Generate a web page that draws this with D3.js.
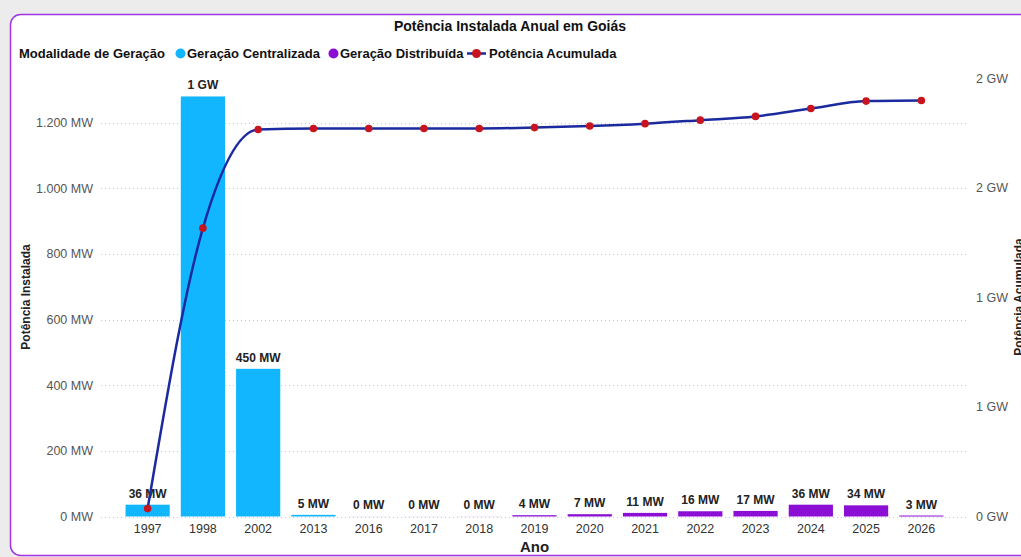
<!DOCTYPE html>
<html><head><meta charset="utf-8">
<script src="https://cdn.jsdelivr.net/npm/d3@7"></script>
<style>
html,body{margin:0;padding:0;background:#ececec;}
svg{display:block;font-family:Arial,"Liberation Sans",sans-serif;}
</style></head>
<body>
<svg id="chart" width="1021" height="557"></svg>
<script>
// ---- data ----
const years = ["1997","1998","2002","2013","2016","2017","2018","2019","2020","2021","2022","2023","2024","2025","2026"];
const centralizada = [36, 1280, 450, 5, 0, 0, 0, 0, 0, 0, 0, 0, 0, 0, 0];
const distribuida  = [0, 0, 0, 0, 0.2, 0.2, 0.3, 4, 7, 11, 16, 17, 36, 34, 3];
const acumulada    = [36, 1316, 1766, 1771, 1771, 1771, 1771, 1775, 1782, 1793, 1809, 1826, 1862, 1896, 1899];
const leftTicks  = [0, 200, 400, 600, 800, 1000, 1200];
const rightTicks = [0, 500, 1000, 1500, 2000];

const colCentral = "#12B6FF", colDistrib = "#8A0ED3", colLine = "#1B2A9E", colMarker = "#C8141E";

const svg = d3.select("#chart");
// card
svg.append("rect").attr("x",10.5).attr("y",14.5).attr("width",1040).attr("height",541)
  .attr("rx",10).attr("fill","#fff").attr("stroke","#A035E6").attr("stroke-width",1.5);

const ptBR = d3.formatLocale({decimal:",", thousands:".", grouping:[3], currency:["R$",""]});
const fmtThousands = ptBR.format(",");

const x = d3.scaleBand().domain(years).range([120, 949]).paddingInner(0.2).paddingOuter(0.1);
const yL = d3.scaleLinear().domain([0, 1200]).range([516.5, 122.7]);
const yR = d3.scaleLinear().domain([0, 2000]).range([516.5, 78.3]);

// title
svg.append("text").attr("x",510).attr("y",31).attr("text-anchor","middle")
  .attr("font-size",14).attr("font-weight","bold").attr("fill","#111").text("Potência Instalada Anual em Goiás");

// legend
const lg = svg.append("g").attr("font-size",13).attr("font-weight","bold").attr("fill","#111");
lg.append("text").attr("x",19).attr("y",58).text("Modalidade de Geração");
lg.append("circle").attr("cx",180.5).attr("cy",53.5).attr("r",5).attr("fill",colCentral);
lg.append("text").attr("x",187).attr("y",58).text("Geração Centralizada");
lg.append("circle").attr("cx",333.5).attr("cy",53.5).attr("r",5).attr("fill",colDistrib);
lg.append("text").attr("x",340).attr("y",58).text("Geração Distribuída");
lg.append("line").attr("x1",467).attr("x2",486).attr("y1",53.5).attr("y2",53.5).attr("stroke",colLine).attr("stroke-width",2.5);
lg.append("circle").attr("cx",476.5).attr("cy",53.5).attr("r",4.5).attr("fill",colMarker);
lg.append("text").attr("x",489).attr("y",58).text("Potência Acumulada");

// gridlines
svg.append("g").selectAll("line").data(leftTicks).join("line")
  .attr("x1",101).attr("x2",967).attr("y1",d=>Math.round(yL(d))+0.5).attr("y2",d=>Math.round(yL(d))+0.5)
  .attr("stroke","#c8c8c8").attr("stroke-width",1).attr("stroke-dasharray","1,3");

// left axis
const axL = svg.append("g").attr("transform","translate(101,0)")
  .call(d3.axisLeft(yL).tickValues(leftTicks).tickSize(0).tickPadding(8).tickFormat(d=>fmtThousands(d)+" MW"));
axL.select(".domain").remove();
axL.selectAll("text").attr("font-size",12.5).attr("fill","#555").attr("font-family","Arial,'Liberation Sans',sans-serif");

// right axis
const axR = svg.append("g").attr("transform","translate(967,0)")
  .call(d3.axisRight(yR).tickValues(rightTicks).tickSize(0).tickPadding(9).tickFormat(d=>Math.round(d/1000)+" GW"));
axR.select(".domain").remove();
axR.selectAll("text").attr("font-size",12.5).attr("fill","#555").attr("font-family","Arial,'Liberation Sans',sans-serif");

// x axis
const axX = svg.append("g").attr("transform","translate(0,520)")
  .call(d3.axisBottom(x).tickSize(0).tickPadding(4));
axX.select(".domain").remove();
axX.selectAll("text").attr("font-size",12.5).attr("fill","#333").attr("font-family","Arial,'Liberation Sans',sans-serif");

// axis titles
svg.append("text").attr("x",534.5).attr("y",552).attr("text-anchor","middle")
  .attr("font-size",15).attr("font-weight","bold").attr("fill","#222").text("Ano");
svg.append("text").attr("transform","translate(30,297) rotate(-90)").attr("text-anchor","middle")
  .attr("font-size",12).attr("font-weight","bold").attr("fill","#222").text("Potência Instalada");
svg.append("text").attr("transform","translate(1023,297) rotate(-90)").attr("text-anchor","middle")
  .attr("font-size",12).attr("font-weight","bold").attr("fill","#222").text("Potência Acumulada");

// stacked bars
const rows = years.map((y,i)=>({year:y, centralizada:centralizada[i], distribuida:distribuida[i]}));
const stack = d3.stack().keys(["centralizada","distribuida"])(rows);
const colors = {centralizada:colCentral, distribuida:colDistrib};
svg.append("g").selectAll("g").data(stack).join("g").attr("fill",s=>colors[s.key])
  .selectAll("rect").data(s=>s).join("rect")
  .attr("x",d=>x(d.data.year)).attr("width",x.bandwidth())
  .attr("y",d=>yL(d[1])).attr("height",d=>Math.max(0,yL(d[0])-yL(d[1])));

// bar labels
const fmtVal = v => v>=1000 ? Math.round(v/1000)+" GW" : Math.round(v)+" MW";
svg.append("g").selectAll("text").data(rows).join("text")
  .attr("x",d=>x(d.year)+x.bandwidth()/2)
  .attr("y",d=>yL(d.centralizada+d.distribuida)-7)
  .attr("text-anchor","middle").attr("font-size",12).attr("font-weight","bold").attr("fill","#222")
  .text(d=>fmtVal(d.centralizada+d.distribuida));

// cumulative line
const pts = years.map((y,i)=>[x(y)+x.bandwidth()/2, yR(acumulada[i])]);
svg.append("path").attr("d",d3.line().curve(d3.curveMonotoneX)(pts))
  .attr("fill","none").attr("stroke",colLine).attr("stroke-width",2.5);
svg.append("g").selectAll("circle").data(pts).join("circle")
  .attr("cx",d=>d[0]).attr("cy",d=>d[1]).attr("r",3.8).attr("fill",colMarker);
</script>
</body></html>
